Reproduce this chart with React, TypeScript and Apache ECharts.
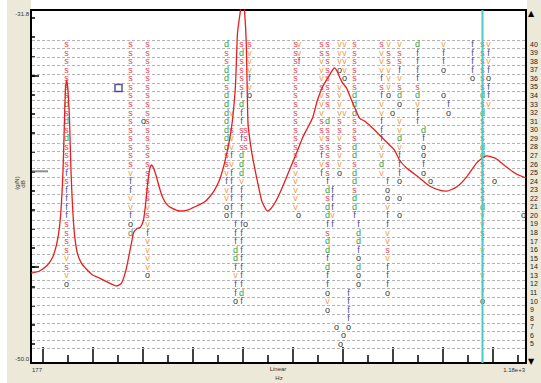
import React, { useEffect, useRef } from "react";
import * as echarts from "echarts";

// ---------- axes ----------
const X_MIN = 177;
const X_MAX = 1167;
const xEndLabels = ["177", "1.18e+3"];
const xAxisTitle = ["Linear", "Hz"];
const majorFreqTicks = [200, 300, 400, 500, 600, 700, 800, 900, 1000, 1100];
const minorFreqTicks = [250, 350, 450, 550, 650, 750, 850, 950, 1050, 1150];

const DB_MIN = -50;
const DB_MAX = -31.586;
const yEndLabels = ["-31.8", "-50.0"];
const yTitle = ["(g/N)", "dB"];
const dbTicks = [-49, -48, -47, -46, -45, -44, -43, -42, -41, -40, -39, -38, -37, -36, -35, -34, -33, -32];
const dbLongTicks = [-45, -35];

const ORDER_MIN = 2.783;
const ORDER_MAX = 43.967;
const orderLabels = [5, 6, 7, 8, 9, 10, 11, 12, 13, 14, 15, 16, 17, 18, 19, 20, 21, 22, 23, 24, 25, 26, 27, 28, 29, 30, 31, 32, 33, 34, 35, 36, 37, 38, 39, 40];
const orderGridLines = [4.5, 5.5, 6.5, 7.5, 8.5, 9.5, 10.5, 11.5, 12.5, 13.5, 14.5, 15.5, 16.5, 17.5, 18.5, 19.5, 20.5, 21.5, 22.5, 23.5, 24.5, 25.5, 26.5, 27.5, 28.5, 29.5, 30.5, 31.5, 32.5, 33.5, 34.5, 35.5, 36.5, 37.5, 38.5, 39.5, 40.5];

// ---------- FRF curve ----------
const curveFreq = [177, 194, 210, 220, 228, 234, 238, 241, 244, 246, 248.5, 251, 254, 257, 260, 264, 270, 278, 286, 300, 314, 334, 348, 358, 366, 372, 378, 382, 388, 396, 402, 406, 410, 414, 418, 422, 428, 434, 440, 448, 458, 474, 490, 508, 524, 534, 544, 554, 564, 574, 580, 586, 590, 596, 600, 604, 607.5, 611, 616, 620, 628, 638, 644, 650, 658, 668, 680, 694, 708, 720, 730, 740, 750, 760, 768, 774, 780, 784, 790, 794, 800, 808, 814, 824, 834, 844, 860, 880, 894, 904, 914, 928, 944, 954, 974, 994, 1008, 1028, 1048, 1068, 1080, 1088, 1098, 1108, 1128, 1148, 1167];
const curveDb = [-45.31, -45.2, -44.89, -44.5, -43.84, -42.9, -41.6, -40.0, -37.3, -35.7, -35.25, -35.8, -37.3, -40.0, -41.8, -43.3, -44.3, -44.8, -45.05, -45.41, -45.57, -45.83, -45.98, -45.83, -45.25, -44.52, -43.74, -43.22, -43.01, -42.91, -42.54, -41.76, -40.71, -39.93, -39.67, -39.83, -40.3, -40.87, -41.34, -41.71, -41.91, -42.07, -42.02, -41.81, -41.6, -41.34, -40.98, -40.45, -39.57, -38.37, -37.32, -35.5, -32.8, -31.59, -30.7, -31.59, -33.3, -37.5, -38.6, -39.25, -40.3, -41.5, -41.86, -42.07, -41.91, -41.5, -40.82, -39.93, -39.05, -38.26, -37.74, -37.22, -36.28, -35.6, -35.24, -34.98, -34.72, -34.61, -34.82, -35.08, -35.39, -35.65, -36.02, -36.65, -37.22, -37.38, -37.74, -38.26, -38.63, -38.89, -39.41, -39.83, -40.14, -40.35, -40.77, -40.98, -41.03, -40.82, -40.3, -39.57, -39.31, -39.2, -39.25, -39.36, -39.78, -40.14, -40.35];

// cursors
const cursorFreq = 1080;
const cursorDb = -40;
const markerPoint = [352, -35.65];

// ---------- stability diagram columns: [freq Hz, top order, symbols from top down] ----------
const TYPES = ["s", "v", "f", "d", "o"];
const TYPE_COLORS = ["#EE4452", "#F29E45", "#4E4EA2", "#36A046", "#333333"];

const colA = [248, 40, "sssssssdsdsdsssfsffffssssvsvo"];
const colB = [376, 40, "sssssssssssssssvffvvfod"];
const colC = [410, 40, "sssssssssssssssssssvsvfvvvvo"];
const colC2 = [402, 31, "o"];
const colD1 = [568, 40, "dssddsdddddddssvfvvoo"];
const colD2 = [578, 32, "v.svvfvffffff"];
const colD3 = [586, 19, "fffddfvffo"];
const colE = [598, 40, "sdssssfdffsfsdddvffffffffffffdf"];
const colE2 = [606, 30, "sss........o"];
const colF = [614, 40, "svvvfvo"];
const colG = [706, 40, "sssssssssssssssvvvvv"];
const colG2 = [713, 40, "vvf"];
const colG3 = [712, 20, "o"];
const colH = [758, 40, "ssvvvsvvvssvsfvf"];
const colI = [770, 40, "ssssssss.dssssssfdsddfsddfdffovo"];
const colI2 = [780, 23, "fffvf"];
const colI3 = [788, 7, "o"];
const colI4 = [802, 6, "o"];
const colI5 = [796, 5, "o"];
const colJ = [794, 40, "vvvo.vvvvssvsvvo"];
const colK = [804, 40, "vvvvo...v"];
const colL = [824, 40, "ssssssdddsssddsddsddf"];
const colL2 = [832, 19, "fddfodoo"];
const colL3 = [812, 11, "ffffo"];
const colM = [878, 40, "svvvfsfvvfffvvdv"];
const colM2 = [890, 24, "foovffvvsvfffo"];
const colN = [892, 40, "vssvvvo"];
const colN2 = [900, 32, "o"];
const colO = [914, 40, "vssfvsdo.vvdvfffo.o.o"];
const colP = [950, 40, "dffffsdvff"];
const colP2 = [962, 30, "dfoofo"];
const colP3 = [976, 24, "o"];
const colQ = [1002, 40, "vffo..o"];
const colQ2 = [1012, 33, "fo"];
const colR = [1060, 40, "ffffo"];
const colS = [1080, 40, "ssssssdsdsssddsssssdvvsfvffvffo"];
const colT = [1092, 40, "vfvfoffv"];
const colT2 = [1104, 24, "o"];
const colT3 = [1162, 20, "o"];

const stabilityColumns = [colA, colB, colC, colC2, colD1, colD2, colD3, colE, colE2, colF, colG, colG2, colG3, colH, colI, colI2, colI3, colI4, colI5, colJ, colK, colL, colL2, colL3, colM, colM2, colN, colN2, colO, colP, colP2, colP3, colQ, colQ2, colR, colS, colT, colT2, colT3];

const BEIGE = "#ECE9D8";
const SMALL_FONT = "Liberation Sans";

export default function App() {
  const ref = useRef<HTMLDivElement>(null);

  useEffect(() => {
    if (!ref.current) return;
    const chart = echarts.init(ref.current, null, { renderer: "svg" });

    const curve = curveFreq.map((f, i) => [f, curveDb[i]]);
    const symbols: number[][] = [];
    stabilityColumns.forEach((col) => {
      const hz = col[0] as number;
      const top = col[1] as number;
      const seq = col[2] as string;
      for (let i = 0; i < seq.length; i++) {
        const k = TYPES.indexOf(seq[i]);
        if (k >= 0) symbols.push([hz, top - i, k]);
      }
    });

    const baseX = {
      type: "value",
      min: X_MIN,
      max: X_MAX,
      position: "bottom",
      axisLine: { show: false, onZero: false },
      splitLine: { show: false },
      axisLabel: { show: false },
    };
    const baseYdb = {
      type: "value",
      min: DB_MIN,
      max: DB_MAX,
      position: "left",
      axisLine: { show: false, onZero: false },
      splitLine: { show: false },
      axisLabel: { show: false },
    };

    const option: any = {
      animation: false,
      backgroundColor: "transparent",
      grid: {
        left: 31,
        top: 10,
        right: 15,
        bottom: 20,
        show: true,
        backgroundColor: "#ffffff",
        borderColor: "#000000",
        borderWidth: 2,
        containLabel: false,
        outerBoundsMode: "none",
      },
      xAxis: [
        {
          ...baseX,
          axisTick: { show: true, inside: true, length: 16, customValues: majorFreqTicks, lineStyle: { color: "#000", width: 1.5 } },
        },
        {
          ...baseX,
          axisTick: { show: true, inside: true, length: 8, customValues: minorFreqTicks, lineStyle: { color: "#000", width: 1.5 } },
        },
      ],
      yAxis: [
        {
          ...baseYdb,
          axisTick: { show: true, inside: true, length: 4, customValues: dbTicks, lineStyle: { color: "#000", width: 1.5 } },
        },
        {
          ...baseYdb,
          axisTick: { show: true, inside: true, length: 8, customValues: dbLongTicks, lineStyle: { color: "#000", width: 1.5 } },
        },
        {
          type: "value",
          min: ORDER_MIN,
          max: ORDER_MAX,
          position: "right",
          axisLine: { show: false, onZero: false },
          splitLine: { show: false },
          axisTick: { show: false },
          axisLabel: {
            show: true,
            customValues: orderLabels,
            margin: 4,
            color: "#222",
            fontSize: 7,
            fontFamily: SMALL_FONT,
          },
        },
      ],
      graphic: [
        { type: "text", x: 29, y: 14, style: { text: yEndLabels[0], fill: "#333", font: `6px "${SMALL_FONT}"`, align: "right", verticalAlign: "middle" } },
        { type: "text", x: 29, y: 359, style: { text: yEndLabels[1], fill: "#333", font: `6px "${SMALL_FONT}"`, align: "right", verticalAlign: "middle" } },
        { type: "text", x: 32, y: 370, style: { text: xEndLabels[0], fill: "#333", font: `6px "${SMALL_FONT}"`, align: "left", verticalAlign: "middle" } },
        { type: "text", x: 525, y: 370, style: { text: xEndLabels[1], fill: "#333", font: `6px "${SMALL_FONT}"`, align: "right", verticalAlign: "middle" } },
        { type: "text", x: 278, y: 369, style: { text: xAxisTitle[0], fill: "#333", font: `6px "${SMALL_FONT}"`, align: "center", verticalAlign: "middle" } },
        { type: "text", x: 279, y: 378, style: { text: xAxisTitle[1], fill: "#333", font: `6px "${SMALL_FONT}"`, align: "center", verticalAlign: "middle" } },
        { type: "text", x: 17, y: 183, rotation: Math.PI / 2, style: { text: yTitle[0], fill: "#333", font: `6px "${SMALL_FONT}"`, align: "center", verticalAlign: "middle" } },
        { type: "text", x: 23, y: 184, rotation: Math.PI / 2, style: { text: yTitle[1], fill: "#333", font: `6px "${SMALL_FONT}"`, align: "center", verticalAlign: "middle" } },
        { type: "text", x: 531, y: 13, style: { text: "▲", fill: "#000", font: `8px "DejaVu Sans"`, align: "center", verticalAlign: "middle" } },
        { type: "text", x: 531, y: 361, style: { text: "▼", fill: "#000", font: `8px "DejaVu Sans"`, align: "center", verticalAlign: "middle" } },
      ],
      series: [
        {
          name: "grid lines",
          type: "custom",
          xAxisIndex: 0,
          yAxisIndex: 2,
          z: 1,
          silent: true,
          data: orderGridLines.map((v) => [X_MIN, v]),
          renderItem: (params: any, api: any) => {
            const v = api.value(1);
            const a = api.coord([X_MIN, v]);
            const b = api.coord([X_MAX, v]);
            const y = Math.round(a[1]) + 0.5;
            return {
              type: "line",
              shape: { x1: a[0] + 1, y1: y, x2: b[0] - 1, y2: y },
              style: { stroke: "#B4B4B4", lineWidth: 1, lineDash: [3, 2] },
            };
          },
        },
        {
          name: "stability",
          type: "custom",
          xAxisIndex: 0,
          yAxisIndex: 2,
          z: 3,
          silent: true,
          data: symbols,
          renderItem: (params: any, api: any) => {
            const p = api.coord([api.value(0), api.value(1)]);
            const k = api.value(2);
            return {
              type: "text",
              x: p[0],
              y: p[1],
              style: {
                text: TYPES[k],
                fill: TYPE_COLORS[k],
                font: `9px "${SMALL_FONT}"`,
                align: "center",
                verticalAlign: "middle",
                textAlign: "center",
                textVerticalAlign: "middle",
              },
            };
          },
        },
        {
          name: "FRF",
          type: "line",
          xAxisIndex: 0,
          yAxisIndex: 0,
          z: 4,
          data: curve,
          smooth: 0.2,
          showSymbol: false,
          symbol: "none",
          clip: true,
          lineStyle: { color: "#E81E1E", width: 1.3 },
        },
        {
          name: "marker",
          type: "scatter",
          xAxisIndex: 0,
          yAxisIndex: 0,
          z: 5,
          data: [markerPoint],
          symbol: "rect",
          symbolSize: 7,
          itemStyle: { color: "rgba(0,0,0,0)", borderColor: "#2A2A7E", borderWidth: 1.5 },
        },
        {
          name: "y cursor",
          type: "scatter",
          xAxisIndex: 0,
          yAxisIndex: 0,
          z: 5,
          clip: false,
          data: [[X_MIN, cursorDb]],
          symbol: "rect",
          symbolSize: [16, 2],
          symbolOffset: [9, 0],
          itemStyle: { color: "#707070" },
        },
        {
          name: "x cursor",
          type: "custom",
          xAxisIndex: 0,
          yAxisIndex: 0,
          z: 6,
          silent: true,
          data: [[cursorFreq, DB_MIN]],
          renderItem: (params: any, api: any) => {
            const a = api.coord([api.value(0), DB_MIN]);
            const b = api.coord([api.value(0), DB_MAX]);
            return {
              type: "line",
              shape: { x1: a[0], y1: a[1], x2: b[0], y2: b[1] },
              style: { stroke: "#4FC8C8", lineWidth: 2 },
            };
          },
        },
      ],
    };

    chart.setOption(option);
    return () => chart.dispose();
  }, []);

  return (
    <div style={{ position: "fixed", left: 0, top: 0, width: 541, height: 383, background: "#ffffff" }}>
      <div style={{ position: "absolute", left: 7, top: 0, width: 24, height: 383, background: BEIGE }} />
      <div style={{ position: "absolute", left: 7, top: 364, width: 534, height: 19, background: BEIGE }} />
      <div style={{ position: "absolute", left: 527, top: 0, width: 14, height: 383, background: BEIGE }} />
      <div ref={ref} style={{ position: "absolute", left: 0, top: 0, width: 541, height: 383 }} />
    </div>
  );
}
